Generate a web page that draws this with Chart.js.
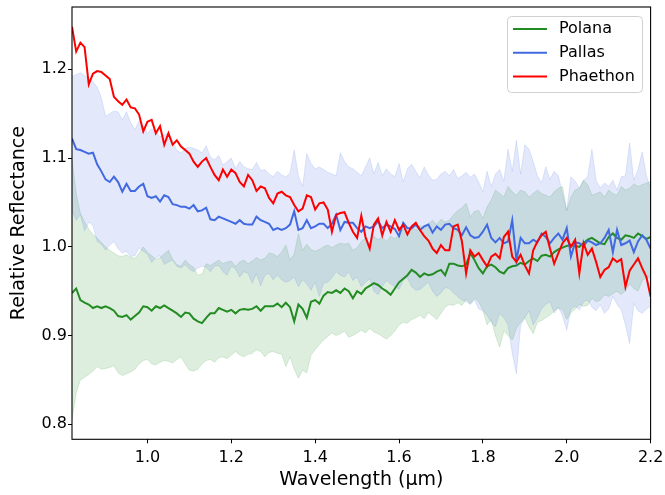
<!DOCTYPE html>
<html><head><meta charset="utf-8">
<script src="https://cdn.jsdelivr.net/npm/chart.js@4.4.1/dist/chart.umd.min.js"></script>
<style>html,body{margin:0;padding:0;background:#fff}#wrap{width:665px;height:495px}</style>
</head><body><div id="wrap"><canvas id="c" width="665" height="495"></canvas></div>
<script>
const wavelength = [
0.82,0.83,0.84,0.85,0.86,0.87,0.88,0.89,0.90,0.91,
0.92,0.93,0.94,0.95,0.96,0.97,0.98,0.99,1.00,1.01,
1.02,1.03,1.04,1.05,1.06,1.07,1.08,1.09,1.10,1.11,
1.12,1.13,1.14,1.15,1.16,1.17,1.18,1.19,1.20,1.21,
1.22,1.23,1.24,1.25,1.26,1.27,1.28,1.29,1.30,1.31,
1.32,1.33,1.34,1.35,1.36,1.37,1.38,1.39,1.40,1.41,
1.42,1.43,1.44,1.45,1.46,1.47,1.48,1.49,1.50,1.51,
1.52,1.53,1.54,1.55,1.56,1.57,1.58,1.59,1.60,1.61,
1.62,1.63,1.64,1.65,1.66,1.67,1.68,1.69,1.70,1.71,
1.72,1.73,1.74,1.75,1.76,1.77,1.78,1.79,1.80,1.81,
1.82,1.83,1.84,1.85,1.86,1.87,1.88,1.89,1.90,1.91,
1.92,1.93,1.94,1.95,1.96,1.97,1.98,1.99,2.00,2.01,
2.02,2.03,2.04,2.05,2.06,2.07,2.08,2.09,2.10,2.11,
2.12,2.13,2.14,2.15,2.16,2.17,2.18,2.19,2.20];

const polana = [
0.948,0.953,0.940,0.937,0.935,0.931,0.933,0.931,0.933,0.931,
0.928,0.922,0.921,0.923,0.918,0.922,0.926,0.933,0.932,0.928,
0.933,0.931,0.934,0.931,0.928,0.925,0.921,0.926,0.925,0.919,
0.916,0.914,0.920,0.925,0.925,0.931,0.929,0.927,0.929,0.925,
0.929,0.930,0.929,0.930,0.933,0.928,0.933,0.933,0.933,0.936,
0.932,0.937,0.932,0.916,0.935,0.930,0.920,0.938,0.940,0.936,
0.945,0.949,0.948,0.951,0.948,0.953,0.950,0.942,0.950,0.947,
0.953,0.956,0.959,0.957,0.953,0.950,0.946,0.953,0.960,0.964,
0.968,0.974,0.971,0.966,0.970,0.968,0.969,0.972,0.974,0.968,
0.981,0.981,0.979,0.978,0.980,0.993,0.985,0.976,0.970,0.978,
0.980,0.977,0.972,0.970,0.976,0.978,0.979,0.982,0.980,0.984,
0.987,0.984,0.990,0.991,0.989,0.994,0.997,0.999,1.001,1.002,
1.001,1.000,1.004,1.008,1.010,1.007,1.004,1.003,1.011,1.015,
1.010,1.008,1.013,1.012,1.010,1.015,1.012,1.009,1.011];

const polanaLow = [
0.805,0.835,0.850,0.853,0.856,0.860,0.865,0.862,0.863,0.864,
0.866,0.858,0.855,0.857,0.859,0.862,0.868,0.872,0.873,0.868,
0.867,0.870,0.872,0.871,0.869,0.873,0.876,0.868,0.861,0.860,
0.862,0.868,0.872,0.873,0.870,0.875,0.876,0.874,0.878,0.882,
0.878,0.876,0.879,0.880,0.884,0.882,0.876,0.881,0.882,0.880,
0.879,0.865,0.876,0.862,0.852,0.861,0.858,0.878,0.884,0.890,
0.895,0.899,0.903,0.900,0.902,0.905,0.898,0.900,0.903,0.906,
0.903,0.908,0.904,0.902,0.899,0.896,0.900,0.905,0.912,0.915,
0.914,0.918,0.920,0.923,0.919,0.926,0.922,0.918,0.925,0.932,
0.935,0.934,0.937,0.934,0.941,0.936,0.942,0.938,0.929,0.912,
0.918,0.900,0.887,0.905,0.900,0.895,0.908,0.915,0.920,0.910,
0.902,0.915,0.917,0.920,0.923,0.928,0.931,0.929,0.918,0.926,
0.930,0.935,0.933,0.934,0.942,0.938,0.940,0.946,0.944,0.947,
0.950,0.946,0.951,0.958,0.953,0.950,0.962,0.965,0.966];

const polanaHigh = [
1.098,1.060,1.038,1.028,1.020,1.014,1.010,1.005,1.000,0.996,
0.993,0.990,0.989,0.991,0.988,0.987,0.993,1.000,0.994,0.990,
0.986,0.988,0.992,0.996,0.986,0.980,0.978,0.985,0.980,0.977,
0.968,0.969,0.981,0.979,0.982,0.985,0.981,0.983,0.984,0.978,
0.983,0.985,0.981,0.984,0.988,0.985,0.987,0.993,0.992,0.989,
0.994,1.002,0.985,0.992,1.015,0.996,1.003,0.997,0.995,0.997,
1.000,1.002,0.999,1.002,1.004,1.003,1.004,0.996,0.999,1.006,
1.010,1.004,1.012,1.008,1.011,1.006,1.012,1.009,1.014,1.020,
1.016,1.022,1.019,1.024,1.020,1.026,1.030,1.025,1.031,1.028,
1.030,1.036,1.041,1.044,1.049,1.034,1.040,1.041,1.032,1.045,
1.053,1.064,1.060,1.056,1.068,1.062,1.058,1.064,1.062,1.056,
1.060,1.064,1.060,1.058,1.056,1.062,1.066,1.068,1.041,1.056,
1.064,1.066,1.075,1.070,1.058,1.060,1.062,1.056,1.064,1.060,
1.058,1.068,1.064,1.066,1.071,1.068,1.070,1.072,1.073];

const pallas = [
1.122,1.110,1.109,1.107,1.105,1.106,1.093,1.085,1.076,1.073,
1.079,1.073,1.062,1.071,1.063,1.063,1.068,1.071,1.057,1.055,
1.057,1.051,1.058,1.056,1.048,1.047,1.045,1.045,1.043,1.047,
1.040,1.041,1.044,1.031,1.030,1.034,1.032,1.030,1.028,1.026,
1.030,1.026,1.025,1.025,1.034,1.030,1.028,1.026,1.019,1.021,
1.019,1.021,1.025,1.040,1.019,1.021,1.030,1.021,1.023,1.026,
1.026,1.021,1.026,1.036,1.019,1.028,1.027,1.027,1.021,1.017,
1.023,1.021,1.023,1.029,1.021,1.025,1.023,1.020,1.012,1.027,
1.021,1.021,1.025,1.019,1.023,1.025,1.016,1.023,1.019,1.025,
1.026,1.021,1.019,1.013,1.022,1.013,1.010,1.011,1.017,1.025,
1.010,1.005,1.010,1.004,1.006,1.030,0.985,1.010,1.004,1.004,
1.008,1.005,1.015,1.011,1.004,1.010,1.015,1.008,1.021,0.989,
1.005,1.004,1.001,1.007,1.005,1.002,1.004,1.010,1.019,0.994,
1.019,1.002,1.004,1.007,0.994,1.006,1.013,1.008,0.998];

const pallasLow = [
1.041,1.030,1.036,1.018,1.028,1.024,1.006,1.003,0.996,1.002,
1.006,0.998,0.993,0.995,0.989,0.990,0.999,0.995,0.992,0.982,
0.988,0.990,0.980,0.983,0.985,0.978,0.976,0.980,0.975,0.972,
0.976,0.978,0.977,0.972,0.978,0.979,0.972,0.968,0.978,0.975,
0.966,0.972,0.970,0.959,0.970,0.956,0.968,0.970,0.963,0.968,
0.963,0.960,0.962,0.966,0.955,0.963,0.958,0.951,0.960,0.944,
0.959,0.960,0.965,0.972,0.968,0.966,0.972,0.962,0.966,0.955,
0.960,0.964,0.950,0.946,0.955,0.962,0.958,0.955,0.952,0.962,
0.965,0.955,0.951,0.952,0.956,0.960,0.950,0.944,0.948,0.954,
0.953,0.948,0.944,0.940,0.938,0.935,0.940,0.930,0.928,0.923,
0.915,0.910,0.925,0.920,0.912,0.880,0.857,0.912,0.920,0.928,
0.912,0.920,0.930,0.935,0.938,0.925,0.932,0.922,0.906,0.930,
0.933,0.929,0.938,0.940,0.932,0.928,0.935,0.925,0.930,0.944,
0.935,0.929,0.912,0.891,0.936,0.928,0.925,0.930,0.933];

const pallasHigh = [
1.192,1.194,1.196,1.193,1.190,1.186,1.180,1.168,1.147,1.150,
1.153,1.152,1.143,1.152,1.140,1.132,1.142,1.136,1.128,1.133,
1.130,1.124,1.126,1.128,1.120,1.108,1.106,1.111,1.112,1.111,
1.109,1.106,1.114,1.101,1.098,1.103,1.092,1.096,1.100,1.088,
1.096,1.090,1.088,1.087,1.095,1.086,1.087,1.082,1.079,1.085,
1.081,1.079,1.083,1.109,1.080,1.068,1.105,1.094,1.088,1.090,
1.087,1.084,1.082,1.080,1.106,1.096,1.090,1.088,1.084,1.080,
1.090,1.100,1.082,1.095,1.080,1.088,1.082,1.079,1.094,1.073,
1.088,1.093,1.085,1.078,1.090,1.081,1.075,1.076,1.082,1.085,
1.080,1.087,1.077,1.080,1.084,1.078,1.082,1.073,1.062,1.085,
1.068,1.082,1.087,1.074,1.110,1.085,1.120,1.082,1.115,1.110,
1.096,1.080,1.072,1.090,1.076,1.085,1.080,1.060,1.041,1.079,
1.074,1.066,1.075,1.079,1.110,1.075,1.066,1.072,1.068,1.075,
1.064,1.079,1.080,1.117,1.075,1.087,1.107,1.080,1.066];

const phaethon = [
1.248,1.220,1.230,1.225,1.183,1.195,1.198,1.197,1.193,1.189,
1.169,1.164,1.160,1.166,1.157,1.156,1.149,1.130,1.141,1.143,
1.128,1.136,1.115,1.128,1.115,1.120,1.113,1.109,1.105,1.096,
1.090,1.096,1.100,1.090,1.081,1.075,1.087,1.079,1.087,1.083,
1.073,1.068,1.081,1.075,1.063,1.068,1.066,1.055,1.049,1.060,
1.062,1.058,1.056,1.047,1.040,1.043,1.058,1.056,1.042,1.049,
1.050,1.042,1.017,1.036,1.038,1.039,1.027,1.017,1.010,1.035,
1.011,0.998,1.025,1.032,1.013,1.028,1.017,1.030,1.019,1.025,
1.014,1.023,1.027,1.019,1.012,1.007,0.998,0.993,1.002,0.996,
0.996,1.023,1.025,1.006,0.970,0.996,0.989,0.993,0.985,0.978,
0.989,0.992,0.987,1.011,1.017,0.989,0.983,0.991,0.979,0.970,
0.996,1.006,1.013,1.017,0.998,0.981,0.993,1.004,1.010,1.000,
1.008,0.970,1.004,0.991,0.998,0.983,0.966,0.974,0.977,0.987,
0.983,0.986,0.955,0.973,0.980,0.987,0.976,0.966,0.944];

const seriesNames = ['Polana', 'Pallas', 'Phaethon'];
const xTicks = [1.0, 1.2, 1.4, 1.6, 1.8, 2.0, 2.2];
const yTicks = [0.8, 0.9, 1.0, 1.1, 1.2];

const GREEN = '#228B22', BLUE = '#4169E1', RED = '#FF0000';
const GREEN_A = 'rgba(34,139,34,0.15)', BLUE_A = 'rgba(65,105,225,0.15)';

const pts = arr => arr.map((v, i) => ({x: wavelength[i], y: v}));
const lineDs = (label, arr, color) => ({label, data: pts(arr), borderColor: color, borderWidth: 2, fill: false, pointRadius: 0, tension: 0});
const bandDs = (arr, color, fill) => ({label: '', data: pts(arr), borderColor: color, backgroundColor: color, borderWidth: 1, fill: fill, pointRadius: 0, tension: 0});

Chart.defaults.font.family = 'DejaVu Sans';
Chart.defaults.color = '#000';

const frame = {
  id: 'frame',
  afterDraw(chart) {
    const {ctx, chartArea: a} = chart;
    ctx.save();
    ctx.strokeStyle = '#000';
    ctx.lineWidth = 1.1;
    ctx.strokeRect(a.left, a.top, a.right - a.left, a.bottom - a.top);
    const bx = 507, by = 16, bw = 135, bh = 76, r = 4;
    ctx.fillStyle = 'rgba(255,255,255,0.8)';
    ctx.strokeStyle = '#d0d0d0';
    ctx.lineWidth = 1;
    ctx.beginPath();
    ctx.roundRect(bx + 0.5, by + 0.5, bw, bh, r);
    ctx.fill();
    ctx.stroke();
    const colors = [GREEN, BLUE, RED];
    ctx.font = '16px "DejaVu Sans"';
    ctx.textBaseline = 'middle';
    ctx.textAlign = 'left';
    seriesNames.forEach((n, i) => {
      const y = 29 + i * 23.7;
      ctx.strokeStyle = colors[i];
      ctx.lineWidth = 2;
      ctx.beginPath();
      ctx.moveTo(513, y);
      ctx.lineTo(547, y);
      ctx.stroke();
      ctx.fillStyle = '#000';
      ctx.fillText(n, 559, y);
    });
    ctx.restore();
  }
};

new Chart(document.getElementById('c'), {
  type: 'line',
  data: {
    datasets: [
      lineDs(seriesNames[2], phaethon, RED),
      lineDs(seriesNames[1], pallas, BLUE),
      lineDs(seriesNames[0], polana, GREEN),
      bandDs(pallasHigh, BLUE_A, 4),
      bandDs(pallasLow, BLUE_A, false),
      bandDs(polanaHigh, GREEN_A, 6),
      bandDs(polanaLow, GREEN_A, false)
    ]
  },
  options: {
    responsive: false,
    animation: false,
    devicePixelRatio: 1,
    layout: {padding: {top: 7, right: 14.4, left: 0, bottom: 0}},
    plugins: {legend: {display: false}, tooltip: {enabled: false}, title: {display: false}},
    scales: {
      x: {
        type: 'linear', min: 0.82, max: 2.2,
        afterBuildTicks: s => { s.ticks = xTicks.map(v => ({value: v})); },
        afterFit: s => { s.height = 55.7; s.paddingLeft = 0; s.paddingRight = 0; },
        ticks: {font: {size: 16}, color: '#000', padding: 5, maxRotation: 0, autoSkip: false, callback: v => v.toFixed(1)},
        grid: {drawOnChartArea: false, drawTicks: true, tickLength: 4, color: '#000', lineWidth: 1},
        border: {display: false},
        title: {display: true, text: 'Wavelength (µm)', font: {size: 19}, color: '#000', padding: {top: 0, bottom: 4}}
      },
      y: {
        type: 'linear', min: 0.7831, max: 1.2702,
        afterBuildTicks: s => { s.ticks = yTicks.map(v => ({value: v})); },
        afterFit: s => { s.width = 72; s.paddingTop = 0; s.paddingBottom = 0; },
        ticks: {font: {size: 16}, color: '#000', padding: 1, autoSkip: false, callback: v => v.toFixed(1)},
        grid: {drawOnChartArea: false, drawTicks: true, tickLength: 4, color: '#000', lineWidth: 1},
        border: {display: false},
        title: {display: true, text: 'Relative Reflectance', font: {size: 19}, color: '#000', padding: {top: 7.4, bottom: 0}}
      }
    }
  },
  plugins: [frame]
});
</script>
</body></html>
